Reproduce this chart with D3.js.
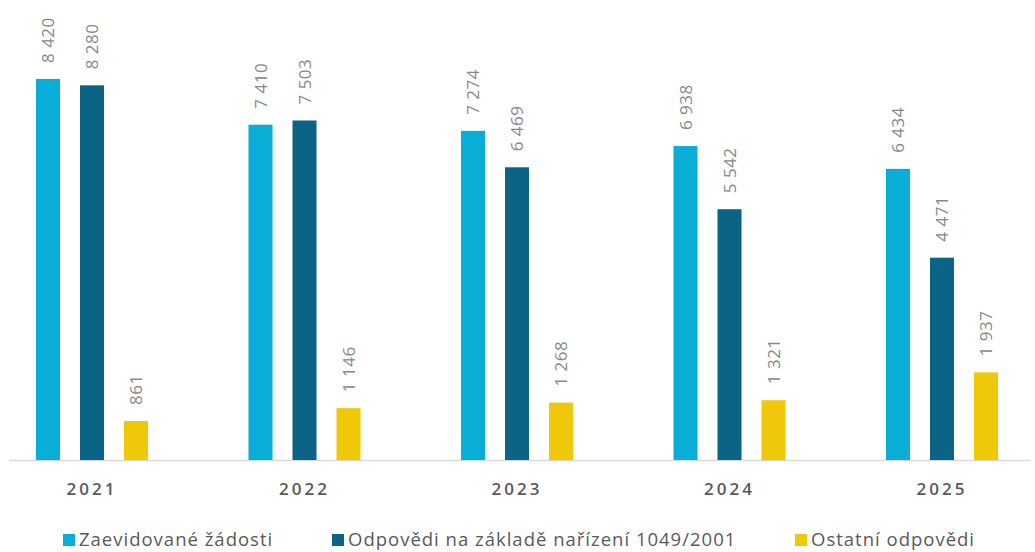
<!DOCTYPE html>
<html>
<head>
<meta charset="utf-8">
<script src="https://cdn.jsdelivr.net/npm/d3@7"></script>
<style>
  body { margin: 0; background: #fff; }
  text { font-family: "Open Sans", sans-serif; }
</style>
</head>
<body>
<div id="chart"></div>
<script>
// data
const years = ["2021", "2022", "2023", "2024", "2025"];
const seriesNames = ["Zaevidované žádosti", "Odpovědi na základě nařízení 1049/2001", "Ostatní odpovědi"];
const zadosti = [8420, 7410, 7274, 6938, 6434];
const odpovedi1049 = [8280, 7503, 6469, 5542, 4471];
const ostatni = [861, 1146, 1268, 1321, 1937];
const colors = ["#08aed5", "#0b6385", "#f0c80a"];

const allSeries = [zadosti, odpovedi1049, ostatni];
const width = 1035, height = 552;
const baseline = 460;

const svg = d3.select("#chart")
    .append("svg")
    .attr("width", width)
    .attr("height", height);

// X scales
const x = d3.scaleBand()
    .domain(years)
    .range([-14.25, 1048.25])
    .padding(0);

const xSub = d3.scaleBand()
    .domain(d3.range(3))
    .range([-66, 66])
    .paddingInner(0.4545)
    .paddingOuter(0.2273);

// Y scale
const y = d3.scaleLinear()
    .domain([0, 10000])
    .range([baseline, 7.5]);

// baseline axis
svg.append("line")
    .attr("x1", 9).attr("x2", 1030)
    .attr("y1", baseline + 0.5).attr("y2", baseline + 0.5)
    .attr("stroke", "#d9d9d9")
    .attr("stroke-width", 1.5);

const rows = years.map((yr, i) => ({ year: yr, values: allSeries.map(s => s[i]) }));

const groups = svg.selectAll("g.grp")
    .data(rows)
    .join("g")
    .attr("class", "grp")
    .attr("transform", d => `translate(${x(d.year) + x.bandwidth() / 2},0)`);

groups.selectAll("rect")
    .data(d => d.values.map((v, k) => ({ v, k })))
    .join("rect")
    .attr("x", d => xSub(d.k))
    .attr("y", d => y(d.v))
    .attr("width", xSub.bandwidth())
    .attr("height", d => baseline - y(d.v))
    .attr("fill", d => colors[d.k]);

// value labels
groups.selectAll("text.val")
    .data(d => d.values.map((v, k) => ({ v, k })))
    .join("text")
    .attr("class", "val")
    .attr("transform", d => `translate(${xSub(d.k) + xSub.bandwidth() / 2},${y(d.v) - 16}) rotate(-90)`)
    .attr("dy", "0.36em")
    .attr("fill", "#888888")
    .style("font-size", "17px")
    .style("letter-spacing", "0.5px")
    .text(d => numberWithSpace(d.v));

// year labels
groups.append("text")
    .attr("y", 495)
    .attr("text-anchor", "middle")
    .attr("fill", "#595959")
    .style("font-size", "17px")
    .style("font-weight", "600")
    .style("letter-spacing", "3px")
    .text(d => d.year);

// legend
const legendX = [63, 332, 795];
const legend = svg.selectAll("g.leg")
    .data(seriesNames)
    .join("g")
    .attr("class", "leg")
    .attr("transform", (d, i) => `translate(${legendX[i]},539)`);

legend.append("rect")
    .attr("x", 0).attr("y", -5)
    .attr("width", 12).attr("height", 12)
    .attr("fill", (d, i) => colors[i]);

legend.append("text")
    .attr("x", 16)
    .attr("dy", "0.36em")
    .attr("fill", "#595959")
    .style("font-size", "18.5px")
    .style("letter-spacing", "1px")
    .text(d => d);

function numberWithSpace(v) {
    return v.toString().replace(/\B(?=(\d{3})+(?!\d))/g, " ");
}
</script>
</body>
</html>
